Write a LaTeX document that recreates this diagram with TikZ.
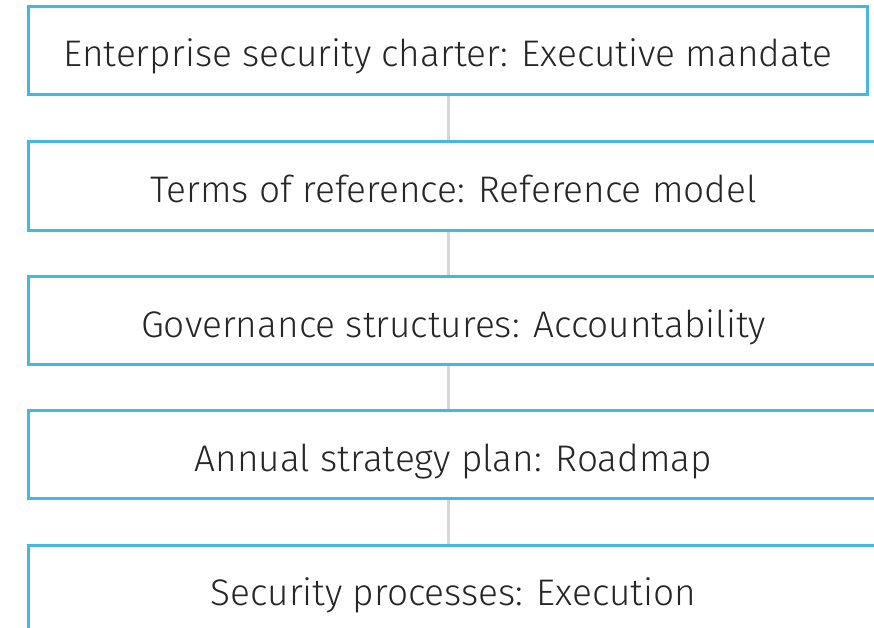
\documentclass[tikz,border=0pt]{standalone}
\usepackage{fontspec}
\setmainfont{Fira Sans}[UprightFont={* Light}]
\definecolor{chartblue}{HTML}{45B7E5}
\definecolor{linkgray}{HTML}{D6D6D6}
\tikzset{
  tier/.style={draw=chartblue, line width=3pt, minimum height=88pt, inner sep=0pt,
    text height=33pt, text depth=0pt,
    font=\fontsize{37}{40}\selectfont, text=black!85},
  link/.style={draw=linkgray, line width=3pt}
}
\begin{document}
\begin{tikzpicture}[x=1pt,y=-1pt]
\useasboundingbox (0,0) rectangle (874,628);
\clip (0,0) rectangle (874,628);
\node[tier, minimum width=839pt] (charter) at (448,50.5) {Enterprise security charter: Executive mandate};
\node[tier, minimum width=851pt] (terms) at (453.5,186) {Terms of reference: Reference model};
\node[tier, minimum width=851pt] (gov) at (453.5,320.5) {Governance structures: Accountability};
\node[tier, minimum width=851pt] (plan) at (453.5,454.5) {Annual strategy plan: Roadmap};
\node[tier, minimum width=851pt] (proc) at (453.5,589) {Security processes: Execution};
\draw[link] (charter.south) -- (charter.south |- terms.north);
\draw[link] (charter.south |- terms.south) -- (charter.south |- gov.north);
\draw[link] (charter.south |- gov.south) -- (charter.south |- plan.north);
\draw[link] (charter.south |- plan.south) -- (charter.south |- proc.north);
\end{tikzpicture}
\end{document}
